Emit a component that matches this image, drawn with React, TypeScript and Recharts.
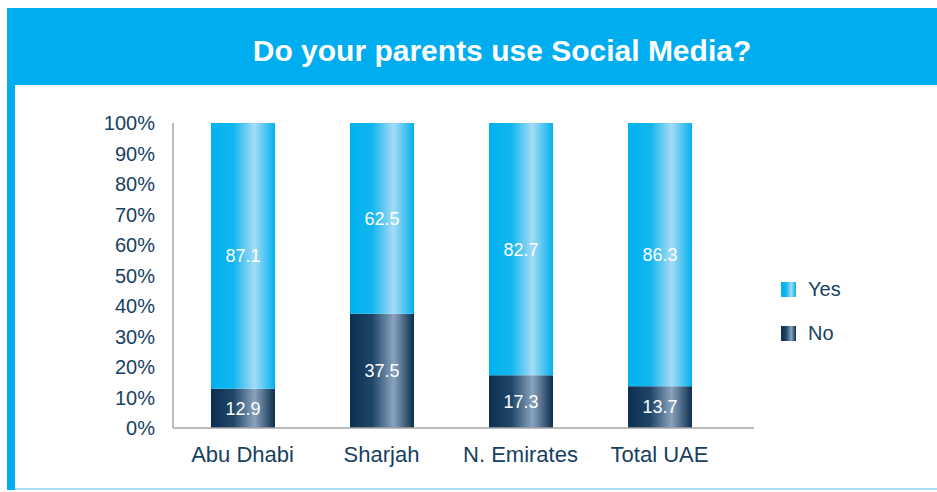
import { BarChart, Bar, XAxis, YAxis, Legend, LabelList } from "recharts";

const regions = ["Abu Dhabi", "Sharjah", "N. Emirates", "Total UAE"];
const noValues = [12.9, 37.5, 17.3, 13.7];
const yesValues = [87.1, 62.5, 82.7, 86.3];
const yTicks = [0, 10, 20, 30, 40, 50, 60, 70, 80, 90, 100];

const data = regions.map((name, i) => ({ name, No: noValues[i], Yes: yesValues[i] }));

const FONT = '"Liberation Sans", Arial, Helvetica, sans-serif';
const NAVY = "#163f63";

const yesCss = "linear-gradient(to right, #00b2ef 0%, #12b6ef 35%, #a6dbf5 68%, #00b2ef 100%)";
const noCss = "linear-gradient(to right, #0b2f4f 0%, #1f4669 35%, #8aa3bd 68%, #0b2f4f 100%)";

function LegendBox() {
  const items = [
    { label: "Yes", bg: yesCss },
    { label: "No", bg: noCss },
  ];
  return (
    <div style={{ fontFamily: FONT }}>
      {items.map((it) => (
        <div key={it.label} style={{ display: "flex", alignItems: "center", height: 44 }}>
          <span style={{ width: 15, height: 15, background: it.bg, display: "inline-block", marginRight: 12 }} />
          <span style={{ fontSize: 20, color: NAVY }}>{it.label}</span>
        </div>
      ))}
    </div>
  );
}

export default function App() {
  return (
    <div style={{ position: "absolute", left: 0, top: 0, width: 937, height: 492, background: "#fff", fontFamily: FONT }}>
      <div
        style={{
          position: "absolute",
          left: 7,
          top: 8,
          width: 930,
          height: 77,
          background: "#00adef",
          color: "#fff",
          fontWeight: "bold",
          fontSize: 30,
          display: "flex",
          alignItems: "center",
          justifyContent: "center",
          paddingLeft: 60,
          paddingTop: 8,
          boxSizing: "border-box",
        }}
      >
        Do your parents use Social Media?
      </div>
      <div style={{ position: "absolute", left: 7, top: 85, width: 8, height: 405, background: "#00adef" }} />
      <div style={{ position: "absolute", left: 15, top: 488, width: 922, height: 2, background: "#a9dcf4" }} />
      <div style={{ position: "absolute", left: 0, top: 0 }}>
        <BarChart width={937} height={492} data={data} margin={{ top: 123, right: 183, bottom: 34, left: 113 }}>
          <defs>
            <linearGradient id="yesGrad" x1="0" y1="0" x2="1" y2="0">
              <stop offset="0%" stopColor="#00b2ef" />
              <stop offset="35%" stopColor="#12b6ef" />
              <stop offset="68%" stopColor="#a6dbf5" />
              <stop offset="100%" stopColor="#00b2ef" />
            </linearGradient>
            <linearGradient id="noGrad" x1="0" y1="0" x2="1" y2="0">
              <stop offset="0%" stopColor="#0b2f4f" />
              <stop offset="35%" stopColor="#1f4669" />
              <stop offset="68%" stopColor="#8aa3bd" />
              <stop offset="100%" stopColor="#0b2f4f" />
            </linearGradient>
          </defs>
          <XAxis
            dataKey="name"
            height={30}
            axisLine={{ stroke: "#a6a6a6", strokeWidth: 1.5 }}
            tickLine={false}
            padding={{ left: 0, right: 25 }}
            tick={{ fill: NAVY, fontSize: 22, fontFamily: FONT }}
            tickMargin={12}
          />
          <YAxis
            domain={[0, 100]}
            ticks={yTicks}
            interval={0}
            width={60}
            axisLine={{ stroke: "#a6a6a6", strokeWidth: 1.5 }}
            tickLine={false}
            tickFormatter={(v) => `${v}%`}
            tick={{ fill: NAVY, fontSize: 20, fontFamily: FONT }}
            tickMargin={12}
          />
          <Legend
            layout="vertical"
            align="center"
            verticalAlign="middle"
            content={() => <LegendBox />}
            wrapperStyle={{ position: "absolute", left: 781, top: 267, width: 120 }}
          />
          <Bar dataKey="No" stackId="a" fill="url(#noGrad)" barSize={64} isAnimationActive={false}>
            <LabelList dataKey="No" position="center" fill="#fff" fontSize={18} fontFamily={FONT} />
          </Bar>
          <Bar dataKey="Yes" stackId="a" fill="url(#yesGrad)" barSize={64} isAnimationActive={false}>
            <LabelList dataKey="Yes" position="center" fill="#fff" fontSize={18} fontFamily={FONT} />
          </Bar>
        </BarChart>
      </div>
    </div>
  );
}
